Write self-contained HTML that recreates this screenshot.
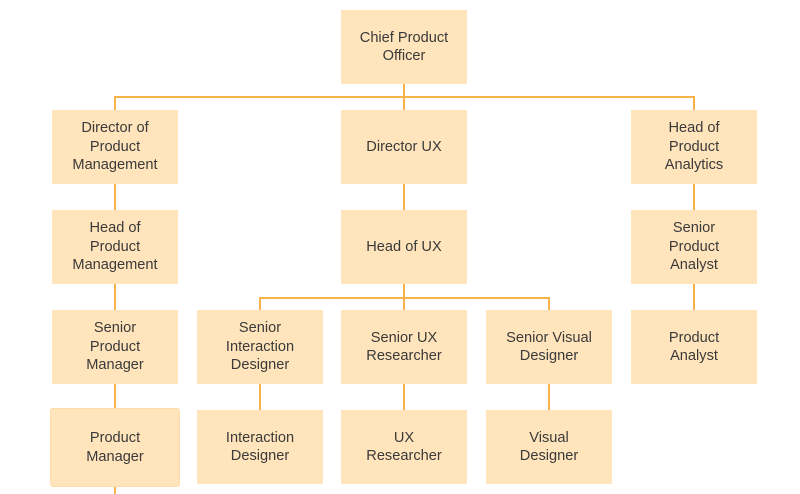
<!DOCTYPE html>
<html><head><style>
body{margin:0;width:800px;height:494px;background:#fff;position:relative;overflow:hidden;font-family:"Liberation Sans",sans-serif;}
.b{position:absolute;width:126px;height:74px;background:#ffe4bc;display:flex;align-items:center;justify-content:center;text-align:center;font-size:14.6px;line-height:18.5px;color:#3a3a3a;}
.l{position:absolute;background:#f7b349;}
</style></head><body>
<div class="l" style="left:403px;top:84px;width:2px;height:26px"></div>
<div class="l" style="left:114px;top:96px;width:581px;height:2px"></div>
<div class="l" style="left:114px;top:96px;width:2px;height:14px"></div>
<div class="l" style="left:693px;top:96px;width:2px;height:14px"></div>
<div class="l" style="left:114px;top:184px;width:2px;height:310px"></div>
<div class="l" style="left:403px;top:184px;width:2px;height:126px"></div>
<div class="l" style="left:693px;top:184px;width:2px;height:126px"></div>
<div class="l" style="left:259px;top:297px;width:291px;height:2px"></div>
<div class="l" style="left:259px;top:297px;width:2px;height:113px"></div>
<div class="l" style="left:548px;top:297px;width:2px;height:113px"></div>
<div class="l" style="left:403px;top:384px;width:2px;height:26px"></div>

<div class="b" style="left:341px;top:10px">Chief Product<br>Officer</div>
<div class="b" style="left:52px;top:110px">Director of<br>Product<br>Management</div>
<div class="b" style="left:341px;top:110px">Director UX</div>
<div class="b" style="left:631px;top:110px">Head of<br>Product<br>Analytics</div>
<div class="b" style="left:52px;top:210px">Head of<br>Product<br>Management</div>
<div class="b" style="left:341px;top:210px">Head of UX</div>
<div class="b" style="left:631px;top:210px">Senior<br>Product<br>Analyst</div>
<div class="b" style="left:52px;top:310px">Senior<br>Product<br>Manager</div>
<div class="b" style="left:197px;top:310px">Senior<br>Interaction<br>Designer</div>
<div class="b" style="left:341px;top:310px">Senior UX<br>Researcher</div>
<div class="b" style="left:486px;top:310px">Senior Visual<br>Designer</div>
<div class="b" style="left:631px;top:310px">Product<br>Analyst</div>
<div class="b" style="left:50px;top:408px;width:128px;height:77px;border:1px solid #ffdcaa;border-radius:3px">Product<br>Manager</div>
<div class="b" style="left:197px;top:410px">Interaction<br>Designer</div>
<div class="b" style="left:341px;top:410px">UX<br>Researcher</div>
<div class="b" style="left:486px;top:410px">Visual<br>Designer</div>
</body></html>
